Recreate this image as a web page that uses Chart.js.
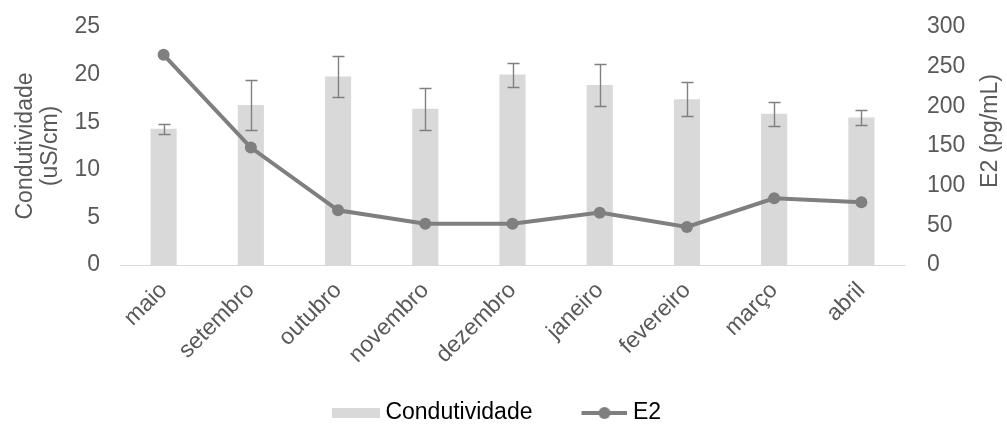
<!DOCTYPE html>
<html>
<head>
<meta charset="utf-8">
<script src="https://cdn.jsdelivr.net/npm/chart.js@4.4.0/dist/chart.umd.min.js"></script>
<style>
  html, body { margin: 0; padding: 0; background: #fff; }
  #wrap { width: 1007px; height: 426px; }
</style>
</head>
<body>
<div id="wrap"><canvas id="chart" width="1007" height="426"></canvas></div>
<script>
// Condutividade (bars, left axis) and E2 (line, right axis) by month.
const months = ["maio", "setembro", "outubro", "novembro", "dezembro", "janeiro", "fevereiro", "março", "abril"];
const condutividade = [14.3, 16.8, 19.8, 16.4, 20.0, 18.9, 17.4, 15.9, 15.5];
const condutividadeErr = [0.5, 2.6, 2.2, 2.2, 1.25, 2.2, 1.8, 1.25, 0.8];
const e2 = [265, 148, 69, 52, 52, 66, 48, 84, 79];

const leftMax = 25, leftStep = 5;
const rightMax = 300, rightStep = 50;
const leftTitle = ["Condutividade", "(uS/cm)"];
const rightTitle = "E2 (pg/mL)";

const FONT = "'Liberation Sans', Arial, sans-serif";
const TEXT = "#595959";
const BAR = "#d9d9d9";
const LINE = "#7f7f7f";
const ERR = "#808080";

// legend geometry: a wide reserved box, swatch drawn at its right end
const BOX_W = 86;
const SW_W = BOX_W + 12;

function swatch(kind) {
  const c = document.createElement("canvas");
  c.width = SW_W; c.height = 16;
  const g = c.getContext("2d");
  if (kind === "bar") {
    g.fillStyle = BAR;
    g.fillRect(SW_W - 48, 3, 48, 10);
  } else {
    g.strokeStyle = LINE; g.lineWidth = 4;
    g.beginPath(); g.moveTo(SW_W - 46, 8); g.lineTo(SW_W, 8); g.stroke();
    g.fillStyle = LINE;
    g.beginPath(); g.arc(SW_W - 23, 8, 6, 0, Math.PI * 2); g.fill();
  }
  return c;
}

const errorBars = {
  id: "errorBars",
  afterDatasetDraw(chart, args) {
    if (args.index !== 0) return;
    const y = chart.scales.y;
    const ctx = chart.ctx;
    ctx.save();
    ctx.strokeStyle = ERR;
    ctx.lineWidth = 1.4;
    args.meta.data.forEach((bar, i) => {
      const top = Math.round(y.getPixelForValue(condutividade[i] + condutividadeErr[i])) + 0.5;
      const bot = Math.round(y.getPixelForValue(condutividade[i] - condutividadeErr[i])) + 0.5;
      const x = Math.round(bar.x) + 0.5;
      ctx.beginPath();
      ctx.moveTo(x, top); ctx.lineTo(x, bot);
      ctx.moveTo(x - 6, top); ctx.lineTo(x + 6, top);
      ctx.moveTo(x - 6, bot); ctx.lineTo(x + 6, bot);
      ctx.stroke();
    });
    ctx.restore();
  }
};

// right axis title reads bottom-to-top, like the left one
const rightAxisTitle = {
  id: "rightAxisTitle",
  afterDraw(chart) {
    const s = chart.scales.y1;
    const ctx = chart.ctx;
    const cy = (chart.chartArea.top + chart.chartArea.bottom) / 2 - 15;
    ctx.save();
    ctx.translate(s.right - 16, cy);
    ctx.rotate(-Math.PI / 2);
    ctx.font = "23px " + FONT;
    ctx.fillStyle = TEXT;
    ctx.textAlign = "center";
    ctx.textBaseline = "middle";
    ctx.fillText(rightTitle, 0, 0);
    ctx.restore();
  }
};

const tickFont = { family: FONT, size: 23 };

new Chart(document.getElementById("chart"), {
  data: {
    labels: months,
    datasets: [
      {
        type: "bar",
        label: "Condutividade",
        data: condutividade,
        backgroundColor: BAR,
        yAxisID: "y",
        order: 1,
        barPercentage: 0.3,
        categoryPercentage: 1.0,
      },
      {
        type: "line",
        label: "E2",
        data: e2,
        borderColor: LINE,
        backgroundColor: LINE,
        borderWidth: 4,
        pointRadius: 6,
        pointBorderWidth: 0,
        pointBackgroundColor: LINE,
        yAxisID: "y1",
        order: 0,
        tension: 0,
      },
    ],
  },
  options: {
    responsive: false,
    animation: false,
    devicePixelRatio: 1,
    layout: { padding: { top: 27, right: 0, bottom: -8.5, left: -58 } },
    plugins: {
      tooltip: { enabled: false },
      legend: {
        position: "bottom",
        labels: {
          usePointStyle: true,
          pointStyleWidth: BOX_W,
          padding: 3,
          color: TEXT,
          font: { family: FONT, size: 23 },
          generateLabels: () => [
            { text: "Condutividade", pointStyle: swatch("bar"), datasetIndex: 0, lineWidth: 0, hidden: false },
            { text: "E2", pointStyle: swatch("line"), datasetIndex: 1, lineWidth: 0, hidden: false },
          ],
        },
      },
    },
    scales: {
      x: {
        grid: { display: false, drawTicks: false },
        border: { color: "#d9d9d9", width: 1 },
        ticks: { color: TEXT, font: tickFont, minRotation: 45, maxRotation: 45, padding: 12 },
        afterFit(s) { s.height = 133.5; },
      },
      y: {
        position: "left",
        min: 0, max: leftMax,
        grid: { display: false, drawTicks: false },
        border: { display: false },
        ticks: { stepSize: leftStep, color: TEXT, font: tickFont, padding: 20 },
        title: {
          display: true,
          text: leftTitle,
          color: TEXT,
          font: { family: FONT, size: 23, lineHeight: 1.1 },
          padding: { top: 71, bottom: 0 },
        },
        afterFit(s) { s.width = 178; s.paddingTop = 0; },
      },
      y1: {
        position: "right",
        min: 0, max: rightMax,
        grid: { display: false, drawTicks: false },
        border: { display: false },
        ticks: { stepSize: rightStep, color: TEXT, font: tickFont, padding: 22 },
        afterFit(s) { s.width = 102; s.paddingTop = 0; },
      },
    },
  },
  plugins: [errorBars, rightAxisTitle],
});
</script>
</body>
</html>
